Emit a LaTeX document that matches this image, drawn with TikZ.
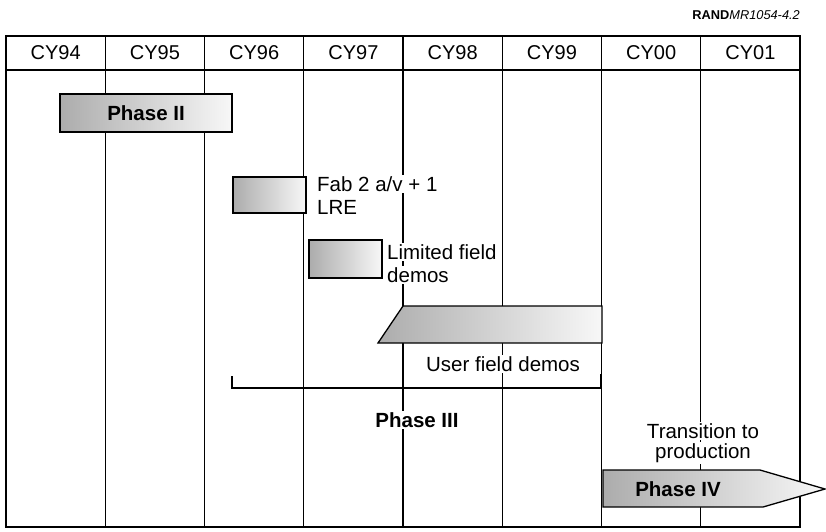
\documentclass[tikz,border=0pt]{standalone}
\usepackage{fontspec}
\setmainfont{Liberation Sans}
\usetikzlibrary{positioning,calc}
\tikzset{
  frame/.style={draw=black, line width=2pt},
  colline/.style={draw=black, line width=1.3pt},
  yr/.style={font=\fontsize{20}{23}\selectfont, inner sep=0pt},
  bar/.style={draw=black, line width=1.3pt, left color=gray!65, middle color=gray!18, right color=gray!6},
  lbl/.style={font=\fontsize{20.5}{23}\selectfont, fill=white, inner sep=1pt},
  plbl/.style={font=\fontsize{20.5}{23}\selectfont\bfseries, inner sep=1.5pt},
  bracket/.style={draw=black, line width=2.6pt}
}
\begin{document}
\begin{tikzpicture}[x=1pt, y=-1pt]
  \useasboundingbox (0,0) rectangle (826,531);
  % figure number
  \node[anchor=east, font=\fontsize{12.8}{14}\selectfont, inner sep=0pt] (fig) at (800,15.5) {\textbf{RAND}\textit{MR1054-4.2}};
  % year grid
  \foreach \i in {1,...,7}
    \draw[colline] ({6+99.25*\i},36) -- ({6+99.25*\i},527);
  \foreach \yy [count=\i from 0] in {94,95,96,97,98,99,00,01}
    \node[yr] (cy\i) at ({6+99.25*(\i+0.5)},53) {CY\yy};
  \draw[frame] (6,70) -- (800,70);
  \draw[frame] (6,36) rectangle (800,527);
  % phase II
  \node[bar, minimum width=172, minimum height=38, font=\fontsize{20.5}{23}\selectfont\bfseries] (ph2) at (146,113) {Phase II};
  % fab 2 and limited demos
  \node[bar, minimum width=73, minimum height=36] (fab) at (269.5,195) {};
  \node[lbl, anchor=west] (fabA) at (316,184) {Fab 2 a/v + 1};
  \node[lbl, anchor=west] (fabB) at (316,207) {LRE};
  \node[bar, minimum width=73, minimum height=38] (lim) at (345.5,259) {};
  \node[lbl, anchor=west] (limA) at (386,252) {Limited field};
  \node[lbl, anchor=west] (limB) at (386,275) {demos};
  % user demos
  \draw[bar] (403,306) -- (602,306) -- (602,343) -- (378,343) -- cycle;
  \node[lbl] (user) at (503,364) {User field demos};
  % phase III
  \draw[bracket] (232,376) -- (232,388) -- (601,388) -- (601,374);
  \node[plbl, fill=white] (ph3) at (417,420) {Phase III};
  % phase IV
  \node[lbl] (trA) at (703,431) {Transition to};
  \node[lbl] (trB) at (703,453) {production};
  \draw[bar] (603,470) -- (760,470) -- (825,489) -- (763,507) -- (603,507) -- cycle;
  \node[plbl] (ph4) at (678,489) {Phase IV};
\end{tikzpicture}
\end{document}
